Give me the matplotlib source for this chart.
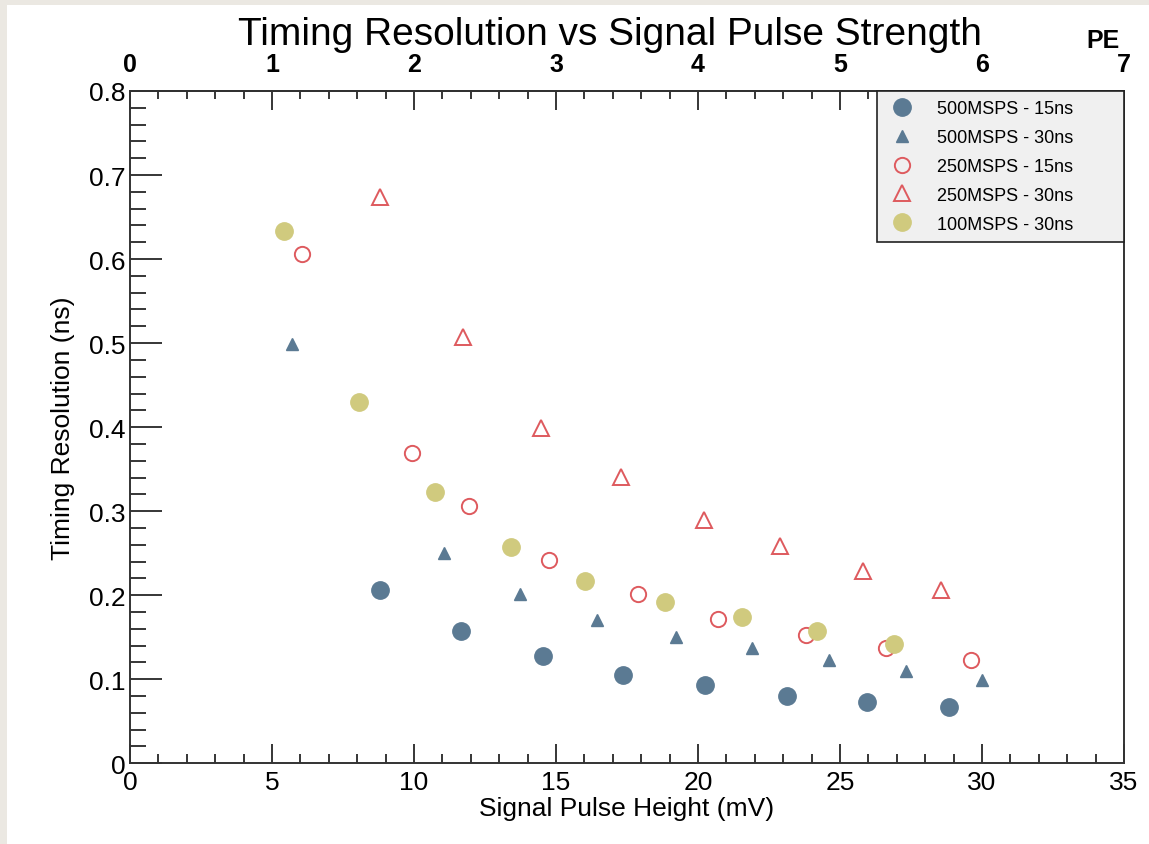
import numpy as np
import matplotlib.pyplot as plt
from matplotlib.patches import Rectangle
from matplotlib.ticker import MultipleLocator, FixedLocator

plt.rcParams["font.family"] = ["Liberation Sans", "DejaVu Sans"]

# signal pulse height (mV) and timing resolution (ns) per configuration
x_500_15 = [8.80, 11.65, 14.54, 17.36, 20.25, 23.13, 25.95, 28.84]
y_500_15 = [0.206, 0.158, 0.128, 0.105, 0.093, 0.080, 0.073, 0.067]

x_500_30 = [5.70, 11.06, 13.73, 16.44, 19.23, 21.90, 24.61, 27.32, 30.00]
y_500_30 = [0.499, 0.250, 0.201, 0.171, 0.150, 0.137, 0.123, 0.110, 0.099]

x_250_15 = [6.06, 9.93, 11.94, 14.75, 17.89, 20.70, 23.80, 26.62, 29.61]
y_250_15 = [0.606, 0.369, 0.306, 0.242, 0.201, 0.172, 0.153, 0.137, 0.123]

x_250_30 = [8.80, 11.73, 14.47, 17.29, 20.21, 22.89, 25.81, 28.56]
y_250_30 = [0.674, 0.507, 0.399, 0.341, 0.289, 0.258, 0.229, 0.206]

x_100_30 = [5.42, 8.06, 10.74, 13.42, 16.02, 18.84, 21.55, 24.19, 26.90]
y_100_30 = [0.633, 0.430, 0.323, 0.257, 0.217, 0.192, 0.174, 0.158, 0.142]

labels = ["500MSPS - 15ns", "500MSPS - 30ns", "250MSPS - 15ns",
          "250MSPS - 30ns", "100MSPS - 30ns"]
pe_ticks = [0, 1, 2, 3, 4, 5, 6, 7]

blue = "#5b7a93"
red = "#de5a5e"
yellow = "#d0ca7e"

fig = plt.figure(figsize=(11.49, 8.45), dpi=100, facecolor="#ebe8e2")
fig.patches.append(Rectangle((7 / 1149, 0), 1, 1 - 6 / 845, transform=fig.transFigure,
                             facecolor="white", edgecolor="none", zorder=-1))
ax = fig.add_axes([130 / 1149, 80.7 / 845, 994 / 1149, 672.3 / 845])

ax.plot(x_500_15, y_500_15, "o", ms=12.5, color=blue, mec=blue, label=labels[0])
ax.plot(x_500_30, y_500_30, "^", ms=9, color=blue, mec=blue, label=labels[1])
ax.plot(x_250_15, y_250_15, "o", ms=11, mfc="none", mec=red, mew=1.4, label=labels[2])
ax.plot(x_250_30, y_250_30, "^", ms=12, mfc="none", mec=red, mew=1.4, label=labels[3])
ax.plot(x_100_30, y_100_30, "o", ms=12.5, color=yellow, mec=yellow, label=labels[4])

ax.set_xlim(0, 35)
ax.set_ylim(0, 0.8)
ax.xaxis.set_major_locator(MultipleLocator(5))
ax.xaxis.set_minor_locator(MultipleLocator(1))
ax.yaxis.set_minor_locator(MultipleLocator(0.02))
ax.set_yticks(np.arange(0, 0.81, 0.1))
ax.set_yticklabels(["0", "0.1", "0.2", "0.3", "0.4", "0.5", "0.6", "0.7", "0.8"])

for s in ax.spines.values():
    s.set_linewidth(1.4)
    s.set_color("#333333")
ax.tick_params(axis="x", which="major", direction="in", length=14, width=1.1,
               labelsize=19, pad=5, top=False)
ax.tick_params(axis="x", which="minor", direction="in", length=6.5, width=1.1, top=False)
ax.tick_params(axis="y", which="major", direction="in", length=23, width=1.1,
               labelsize=19, pad=3, right=False)
ax.tick_params(axis="y", which="minor", direction="in", length=11.5, width=1.1, right=False)

ax.set_xlabel("Signal Pulse Height (mV)", fontsize=19, labelpad=1)
ax.set_ylabel("Timing Resolution (ns)", fontsize=19, labelpad=10)

# top axis in photo-electrons (5 mV per PE)
top = ax.secondary_xaxis("top", functions=(lambda v: v / 5, lambda v: v * 5))
top.xaxis.set_major_locator(FixedLocator(pe_ticks))
top.xaxis.set_minor_locator(MultipleLocator(0.2))
top.tick_params(axis="x", which="major", direction="in", length=14, width=1.1,
                labelsize=18, pad=11)
top.tick_params(axis="x", which="minor", direction="in", length=6, width=1.1)
top.set_xticklabels([str(t) for t in pe_ticks], fontweight="bold")
top.spines["top"].set_linewidth(1.4)
fig.text(1103 / 1149, 1 - 41 / 845, "PE", fontsize=18, fontweight="bold",
         ha="center", va="center")

fig.text(610 / 1149, 1 - 35 / 845, "Timing Resolution vs Signal Pulse Strength",
         fontsize=28, ha="center", va="center")

leg = ax.legend(loc="upper left", bbox_to_anchor=(0.7515, 0, 0.2485, 1), mode="expand",
                borderaxespad=0, fancybox=False, framealpha=1, facecolor="#f0f0f0",
                edgecolor="#222222", fontsize=13, labelspacing=0.66, handletextpad=1.0,
                borderpad=0.5, handlelength=1.8)
leg.get_frame().set_linewidth(1.2)

fig.savefig("out.png", dpi=100, facecolor=fig.get_facecolor())
